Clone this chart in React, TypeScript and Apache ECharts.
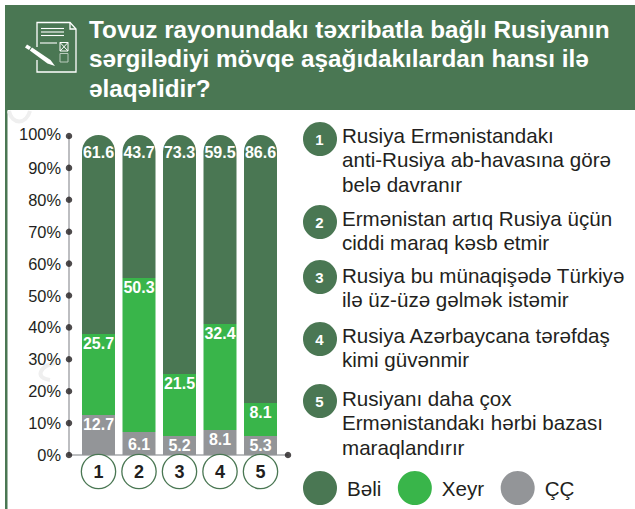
import React, { useEffect, useRef } from "react";
import * as echarts from "echarts";

const categories = ["1", "2", "3", "4", "5"];
// Printed values
const beliLabels = [61.6, 43.7, 73.3, 59.5, 86.6];
const xeyrLabels = [25.7, 50.3, 21.5, 32.4, 8.1];
const ccLabels = [12.7, 6.1, 5.2, 8.1, 5.3];
// Segment heights as drawn in the picture
const beli = [62.2, 44.7, 74.7, 59.1, 83.75];
const xeyr = [25.3, 48.1, 19.4, 33.1, 10.35];
const cc = [12.5, 7.2, 5.9, 7.8, 5.9];
const yTicks = [0, 10, 20, 30, 40, 50, 60, 70, 80, 90, 100];
const titleLines = [
  "Tovuz rayonundakı təxribatla bağlı Rusiyanın",
  "sərgilədiyi mövqe aşağıdakılardan hansı ilə",
  "əlaqəlidir?",
];
const answers = [
  { n: "1", lines: ["Rusiya Ermənistandakı", "anti-Rusiya ab-havasına görə", "belə davranır"] },
  { n: "2", lines: ["Ermənistan artıq Rusiya üçün", "ciddi maraq kəsb etmir"] },
  { n: "3", lines: ["Rusiya bu münaqişədə Türkiyə", "ilə üz-üzə gəlmək istəmir"] },
  { n: "4", lines: ["Rusiya Azərbaycana tərəfdaş", "kimi güvənmir"] },
  { n: "5", lines: ["Rusiyanı daha çox", "Ermənistandakı hərbi bazası", "maraqlandırır"] },
];
const answerCircleY = [139, 222, 277, 339, 401];
const answerTextY = [135, 218, 275, 335, 398];

const DARK = "#4a7753";
const GREEN = "#39b54a";
const GREY = "#939598";
const INK = "#231f20";
const FONT = '"Liberation Sans", Arial, sans-serif';

function icon(): any[] {
  const w = { stroke: "#fff", fill: "none", lineWidth: 1.3 };
  const l = { stroke: "#fff", lineWidth: 1.1 };
  return [
    { type: "polyline", shape: { points: [[37, 47], [37, 22.5], [70, 22.5], [76, 29], [76, 72], [37, 72], [37, 60]] }, style: w },
    { type: "polyline", shape: { points: [[70, 22.5], [70, 29], [76, 29]] }, style: w },
    { type: "line", shape: { x1: 41, y1: 28.5, x2: 64, y2: 28.5 }, style: l },
    { type: "line", shape: { x1: 41, y1: 32, x2: 64, y2: 32 }, style: l },
    { type: "line", shape: { x1: 41, y1: 35.5, x2: 64, y2: 35.5 }, style: l },
    { type: "line", shape: { x1: 40, y1: 43, x2: 57, y2: 43 }, style: l },
    { type: "rect", shape: { x: 60, y: 42.5, width: 8, height: 8.5 }, style: { stroke: "#fff", fill: "none", lineWidth: 1 } },
    { type: "line", shape: { x1: 60, y1: 42.5, x2: 68, y2: 51 }, style: { stroke: "#fff", lineWidth: 1 } },
    { type: "line", shape: { x1: 68, y1: 42.5, x2: 60, y2: 51 }, style: { stroke: "#fff", lineWidth: 1 } },
    { type: "rect", shape: { x: 60, y: 53.5, width: 8, height: 8.5 }, style: { stroke: "#b9cbbd", fill: "none", lineWidth: 1 } },
    { type: "polygon", shape: { points: [[25, 47.5], [27, 44.5], [31, 47], [29, 50]] }, style: { fill: "#fff" } },
    { type: "polygon", shape: { points: [[29.8, 50.5], [32, 47.5], [50.5, 60], [55, 66], [47.5, 63.5]] }, style: { fill: "#fff" } },
  ];
}

function faintMarks(): any[] {
  const s = { stroke: "#efefef", fill: "none", lineWidth: 4 };
  return [
    { type: "bezierCurve", shape: { x1: 9, y1: 111, x2: 30, y2: 111, cpx1: 12, cpy1: 125, cpx2: 26, cpy2: 125 }, style: s },
    { type: "bezierCurve", shape: { x1: 55, y1: 363, x2: 50, y2: 380, cpx1: 40, cpy1: 366, cpx2: 34, cpy2: 378 }, style: s },
  ];
}

export default function App() {
  const ref = useRef<HTMLDivElement>(null);
  useEffect(() => {
    const chart = echarts.init(ref.current!, undefined, { renderer: "svg" });
    const baseLabel = { show: true, color: "#fff", fontFamily: FONT, fontWeight: "bold" as const, fontSize: 16, position: "insideTop" as const };
    const fmt = (arr: number[]) => (p: any) => arr[p.dataIndex].toFixed(1);
    const graphic: any[] = [
      { type: "rect", z: -10, shape: { x: 5, y: 5, width: 630, height: 105 }, style: { fill: DARK } },
      { type: "rect", z: -10, shape: { x: 5, y: 110, width: 2.5, height: 399 }, style: { fill: DARK } },
      ...faintMarks(),
      ...icon(),
      ...titleLines.map((t, i) => ({
        type: "text", x: 89, y: 29 + i * 29.5,
        style: { text: t, fill: "#fff", font: `bold 24.3px ${FONT}`, verticalAlign: "middle", align: "left" },
      })),
    ];
    answers.forEach((a, i) => {
      graphic.push({ type: "circle", shape: { cx: 320, cy: answerCircleY[i], r: 17 }, style: { fill: DARK } });
      graphic.push({
        type: "text", x: 319.5, y: answerCircleY[i],
        style: { text: a.n, fill: "#fff", font: `bold 15px ${FONT}`, align: "center", verticalAlign: "middle" },
      });
      a.lines.forEach((t, j) => {
        graphic.push({
          type: "text", x: 342, y: answerTextY[i] + j * 24.5,
          style: { text: t, fill: INK, font: `20.6px ${FONT}`, align: "left", verticalAlign: "middle" },
        });
      });
    });
    chart.setOption({
      animation: false,
      backgroundColor: "#fff",
      graphic,
      legend: {
        data: ["Bəli", "Xeyr", "ÇÇ"],
        left: 303,
        top: 471,
        padding: 0,
        icon: "circle",
        itemWidth: 34,
        itemHeight: 34,
        itemGap: 16.5,
        selectedMode: false,
        textStyle: { color: INK, fontFamily: FONT, fontSize: 20.6, padding: [0, 0, 0, 5] },
      },
      grid: [
        { left: 78.25, width: 202.5, top: 135, height: 320 },
        { left: 69, width: 219, top: 136, height: 319 },
      ],
      xAxis: [
        {
          type: "category", gridIndex: 0, data: categories,
          axisLine: { show: false }, axisTick: { show: false },
          axisLabel: {
            margin: 0, color: INK, fontFamily: FONT, fontWeight: "bold", fontSize: 18,
            width: 33, height: 33, lineHeight: 33, align: "center", verticalAlign: "top",
            backgroundColor: "#fff", borderColor: DARK, borderWidth: 1.3, borderRadius: 17,
          },
          z: 10,
        },
        {
          type: "value", gridIndex: 1, min: 0, max: 1,
          axisLine: { show: true, onZero: false, lineStyle: { color: "#a7a9ac", width: 1.5 } },
          axisTick: { show: false }, axisLabel: { show: false }, splitLine: { show: false },
        },
      ],
      yAxis: [
        { type: "value", gridIndex: 0, min: 0, max: 100, show: false },
        {
          type: "value", gridIndex: 1, min: 0, max: 100, interval: 10,
          axisLine: { show: true, lineStyle: { color: "#a7a9ac", width: 1.5 } },
          axisTick: { show: false }, splitLine: { show: false },
          axisLabel: {
            formatter: (v: number) => (v === 100 ? `{top|${v}%}` : `${v}%`),
            color: INK, fontFamily: FONT, fontSize: 16.4, margin: 8,
            rich: { top: { color: INK, fontFamily: FONT, fontSize: 16.4, padding: [0, 0, 5, 0] } },
          },
        },
      ],
      series: [
        {
          name: "ÇÇ", type: "bar", stack: "t", xAxisIndex: 0, yAxisIndex: 0, barWidth: 33,
          data: cc.map((v, i) => (i === 1 ? { value: v, label: { offset: [0, 4] } } : v)),
          itemStyle: { color: GREY }, label: { ...baseLabel, distance: 1, formatter: fmt(ccLabels) },
        },
        {
          name: "Xeyr", type: "bar", stack: "t", xAxisIndex: 0, yAxisIndex: 0, barWidth: 33, data: xeyr,
          itemStyle: { color: GREEN }, label: { ...baseLabel, distance: 1.5, formatter: fmt(xeyrLabels) },
        },
        {
          name: "Bəli", type: "bar", stack: "t", xAxisIndex: 0, yAxisIndex: 0, barWidth: 33, data: beli,
          itemStyle: { color: DARK, borderRadius: [16.5, 16.5, 0, 0] }, label: { ...baseLabel, distance: 9, formatter: fmt(beliLabels) },
        },
        {
          name: "ticks", type: "scatter", xAxisIndex: 1, yAxisIndex: 1, symbolSize: 6.5, silent: true,
          itemStyle: { color: INK }, z: 5, clip: false,
          data: [...yTicks.map((v) => [0, v]), [1, 0]],
        },
      ],
    });
    return () => chart.dispose();
  }, []);
  return <div ref={ref} style={{ position: "absolute", left: 0, top: 0, width: 635, height: 509 }} />;
}
